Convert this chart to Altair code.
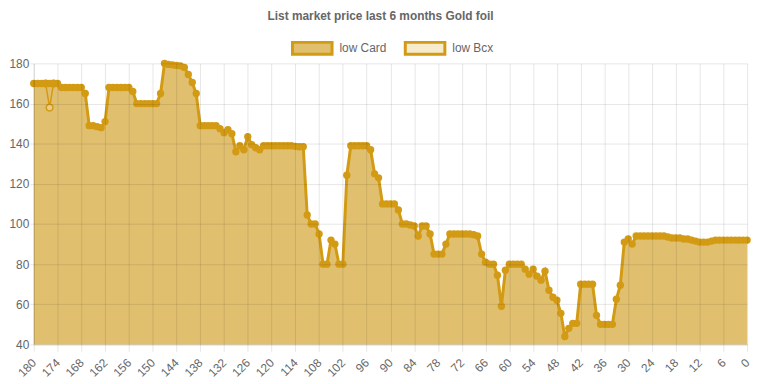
import altair as alt
import pandas as pd

TITLE = "List market price last 6 months Gold foil"
SERIES = ["low Card", "low Bcx"]

# days before today (x categories), from 180 down to 0
DAYS = list(range(180, -1, -1))

# low Card values, one per day, day 180 -> day 0
CARD = [
    170, 170, 170, 170, 170, 170, 170, 168, 168, 168,      # 180-171
    168, 168, 168, 165, 149, 149, 148.5, 148, 151, 168,    # 170-161
    168, 168, 168, 168, 168, 166, 160, 160, 160, 160,      # 160-151
    160, 160, 165, 180, 179.5, 179.3, 179, 178.8, 178, 174.5,  # 150-141
    170.5, 165, 149, 149, 149, 149, 149, 147.5, 145.5, 147,    # 140-131
    145, 136, 139, 137, 143.5, 139.5, 138, 137, 139, 139,      # 130-121
    139, 139, 139, 139, 139, 139, 138.7, 138.5, 138.5, 104.5,  # 120-111
    100, 100, 95, 80, 80, 92, 90, 80, 80, 124.3,              # 110-101
    139, 139, 139, 139, 139, 137, 125, 123, 110, 110,          # 100-91
    110, 110, 107, 100, 100, 99.5, 99, 94, 99, 99,             # 90-81
    95, 85, 85, 85, 90, 95, 95, 95, 95, 95,                    # 80-71
    95, 94.7, 94, 85, 81, 80, 80, 74.5, 59, 77,                # 70-61
    80, 80, 80, 80, 77.5, 75, 77.5, 74, 72, 76.5,              # 60-51
    67, 63.5, 62, 55.5, 44, 48, 50.5, 50.5, 70, 70,            # 50-41
    70, 70, 54.5, 50, 50, 50, 50, 62.5, 69.5, 91,              # 40-31
    92.5, 90, 94, 94, 94, 94, 94, 94, 94, 94,                  # 30-21
    93.5, 93, 93, 93, 92.5, 92.5, 92, 91.5, 91, 91,            # 20-11
    91, 91.5, 92, 92, 92, 92, 92, 92, 92, 92,                  # 10-1
    92,                                                        # 0
]

# low Bcx: only visible where it departs from low Card
BCX_DAYS = [177, 176, 175]
BCX = [170, 158, 170]

X_TICKS = list(range(0, 181, 6))
Y_TICKS = [40, 60, 80, 100, 120, 140, 160, 180]

LINE = "#d39a14"
FILL = "#e0bf6f"
FILL_BCX = "#f7ebcd"
GRID = "rgba(0,0,0,0.1)"
FONT = "Liberation Sans"

card = pd.DataFrame({"day": DAYS, "value": CARD, "series": SERIES[0]})
bcx = pd.DataFrame({"day": BCX_DAYS, "value": BCX, "series": SERIES[1]})

xaxis = alt.Axis(
    values=X_TICKS, format="d", title=None, labelAngle=315,
    labelAlign="right", labelBaseline="middle", labelPadding=9,
    labelFontSize=12, labelColor="#666", labelFont=FONT,
    tickSize=7, tickColor=GRID, gridColor=GRID, domainColor=GRID,
    labelOverlap=False, labelFlush=False, labelBound=False, zindex=1,
)
yaxis = alt.Axis(
    values=Y_TICKS, title=None, labelFontSize=12, labelColor="#666",
    labelFont=FONT, tickSize=4, labelPadding=1, tickColor=GRID,
    gridColor=GRID, domainColor=GRID, labelOverlap=False, zindex=1,
)
xscale = alt.Scale(domain=[0, 180], reverse=True, nice=False, zero=False)
yscale = alt.Scale(domain=[40, 180], nice=False, zero=False)


def X():
    return alt.X("day:Q", scale=xscale, axis=xaxis)


def Y():
    return alt.Y("value:Q", scale=yscale, axis=yaxis)


area = alt.Chart(card).mark_area(opacity=1).encode(
    x=X(),
    y=Y(),
    y2=alt.datum(40),
    fill=alt.Fill(
        "series:N",
        scale=alt.Scale(domain=SERIES, range=[FILL, FILL_BCX]),
        legend=alt.Legend(
            title=None, orient="none", direction="horizontal",
            legendX=260, legendY=-37,
            symbolType="M-1,-0.3H1V0.3H-1Z", symbolSize=1600,
            symbolStrokeColor=LINE, symbolStrokeWidth=3, symbolOpacity=1,
            labelFontSize=12, labelColor="#666", labelFont=FONT,
            labelOffset=6, columnPadding=12,
        ),
    ),
)

bcx_line = alt.Chart(bcx).mark_line(color=LINE, strokeWidth=1.5).encode(
    x=X(), y=Y()
)
bcx_pts = alt.Chart(bcx).mark_point(
    filled=True, fill="#e9cd88", stroke=LINE, strokeWidth=1.5, size=45, opacity=1
).encode(x=X(), y=Y())

card_line = alt.Chart(card).mark_line(color=LINE, strokeWidth=3).encode(
    x=X(), y=Y()
)
card_pts = alt.Chart(card).mark_circle(color=LINE, size=55, opacity=1).encode(
    x=X(), y=Y()
)

chart = alt.layer(area, bcx_line, bcx_pts, card_line, card_pts).properties(
    width=721,
    height=284,
    autosize=alt.AutoSizeParams(type="none"),
    padding={"left": 26, "top": 54, "right": 13, "bottom": 38},
    title=alt.Title(
        TITLE, fontSize=12, fontWeight="bold", color="#666", font=FONT,
        anchor="middle", dx=-10, offset=4,
    ),
).configure_view(stroke=None).configure_axis(labelOverlap=False)

chart.save("out.html", embed_options={"renderer": "svg", "actions": False})
